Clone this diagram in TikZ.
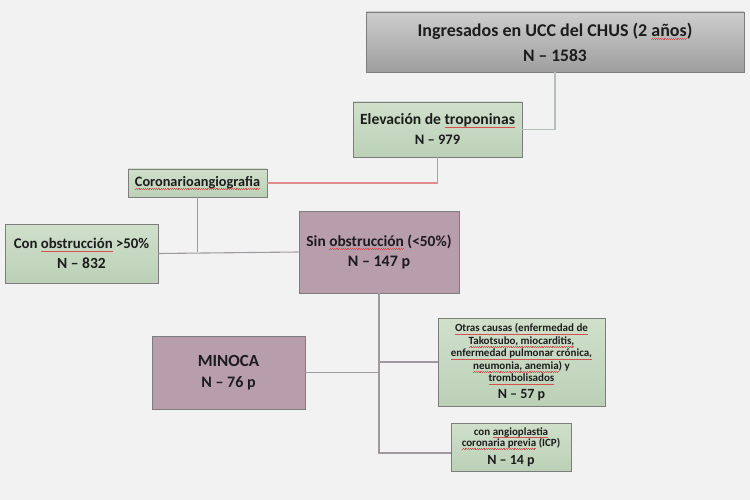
\documentclass[tikz,border=0pt]{standalone}
\usepackage{fontspec}
\setmainfont{Carlito}
\definecolor{bgc}{RGB}{242,242,243}
\definecolor{wavered}{RGB}{215,80,80}
\definecolor{gtop}{RGB}{208,224,203}
\definecolor{gbot}{RGB}{188,208,183}
\definecolor{mauve}{RGB}{184,157,171}
\definecolor{graytop}{RGB}{205,205,205}
\definecolor{graybot}{RGB}{158,158,158}
\definecolor{bordc}{RGB}{125,125,125}
\definecolor{linec}{RGB}{160,154,160}
\definecolor{toplinec}{RGB}{182,192,182}
\definecolor{redline}{RGB}{222,140,140}
\definecolor{txt}{RGB}{28,28,28}
\newcommand\rw[1]{\leavevmode\setbox0\hbox{#1}\rlap{\hbox to\wd0{\color{wavered}\xleaders\hbox{\rule[-2.9pt]{0.9pt}{0.45pt}\rule[-2.35pt]{0.9pt}{0.45pt}}\hfill}}\box0\relax}
\newcommand\fsz[1]{\fontsize{#1}{#1}\selectfont}
\begin{document}
\begin{tikzpicture}[x=1pt,y=-1pt,
  box/.style={draw=bordc, line width=0.8pt, inner sep=0pt, align=center, text=txt},
  greenbox/.style={box, top color=gtop, bottom color=gbot},
  mauvebox/.style={box, fill=mauve},
  graybox/.style={box, top color=graytop, bottom color=graybot},
  conn/.style={draw=linec, line width=1.1pt},
  fnt/.style 2 args={font=\bfseries\fontsize{#1}{#2}\selectfont}]
\fill[bgc] (0,0) rectangle (750,500);
\useasboundingbox (0,0) rectangle (750,500);

\node[graybox, fnt={18}{25}, minimum width=378pt, minimum height=60pt] (top) at (555,42)
  {Ingresados en UCC del CHUS (2 \rw{años})\\ \fsz{17.5}N – 1583};
\node[greenbox, fnt={15.6}{20}, minimum width=169pt, minimum height=55pt] (elev) at (437.5,129.5)
  {Elevación de \rw{troponinas}\\ \fsz{14.5}N – 979};
\node[greenbox, fnt={14.3}{17}, minimum width=139pt, minimum height=28pt] (coro) at (197.5,183)
  {\rw{Coronarioangiografia}};
\node[greenbox, fnt={14.8}{20}, minimum width=153pt, minimum height=59pt] (con) at (81.5,253.5)
  {Con \rw{obstrucción} >50\%\\ \fsz{15.5}N – 832};
\node[mauvebox, fnt={15.4}{20}, minimum width=160pt, minimum height=82pt] (sin) at (379,252)
  {Sin \rw{obstrucción} (<50\%)\\ \fsz{16}N – 147 p};
\node[mauvebox, fnt={17}{21}, minimum width=153pt, minimum height=73pt] (minoca) at (228.5,372.5)
  {MINOCA\\ \fsz{16}N – 76 p};
\node[greenbox, fnt={11}{12.5}, minimum width=167pt, minimum height=88pt] (otras) at (521.5,362)
  {\rw{Otras causas (enfermedad de}\\ \rw{Takotsubo, miocarditis,}\\ \rw{enfermedad pulmonar crónica,}\\ \rw{neumonia, anemia}) y\\ \rw{trombolisados}\\[4pt] \fsz{14}N – 57 p};
\node[greenbox, fnt={11}{11.5}, minimum width=120pt, minimum height=48pt] (icp) at (511,447)
  {con \rw{angioplastia}\\ \rw{coronaria previa} (ICP)\\[5pt] \fsz{14}N – 14 p};

\draw[draw=toplinec, line width=1.1pt] (top.south) |- (elev.east);
\draw[draw=redline, line width=1.1pt] (elev.south) |- (coro.east);
\draw[conn] (coro.south) -- (coro.south |- sin.west);
\draw[conn] (con.east) -- (sin.west);
\draw[conn] (sin.south) |- ([yshift=-6pt]icp.west);
\draw[conn] (minoca.east) -- (sin.south |- minoca.east);
\draw[conn] (sin.south |- otras.west) -- (otras.west);
\end{tikzpicture}
\end{document}
